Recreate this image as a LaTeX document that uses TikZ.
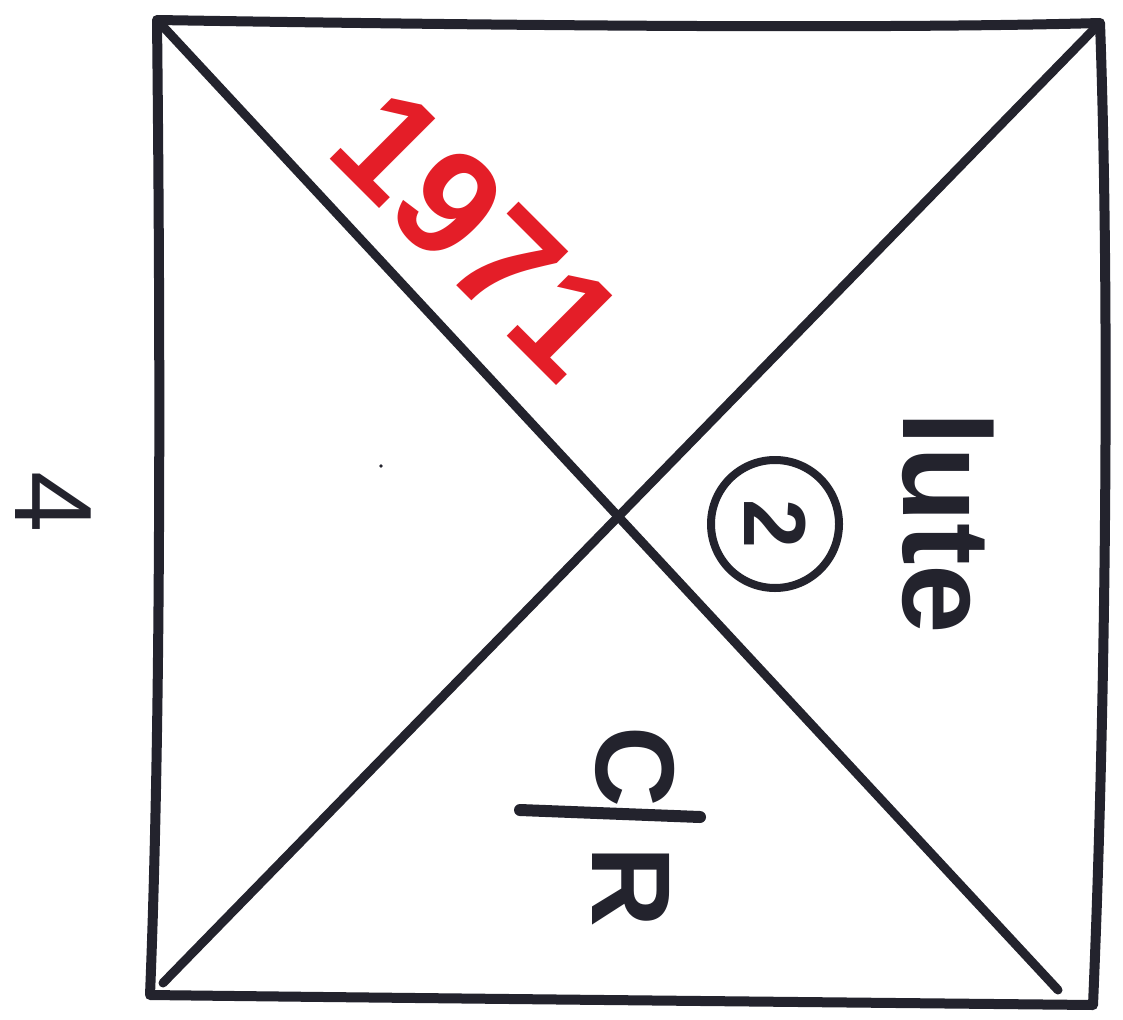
\documentclass[tikz,border=0pt]{standalone}
\usepackage{fontspec}
\setmainfont{Liberation Sans}
\begin{document}
\definecolor{ink}{RGB}{35,35,45}
\definecolor{brush}{RGB}{228,30,40}
\begin{tikzpicture}[x=1pt,y=-1pt,
  edge/.style={draw=ink,line width=10pt,line cap=round,line join=round},
  inktext/.style={text=ink,inner sep=0pt,rotate=-90},
  redtext/.style={text=brush,inner sep=0pt,rotate=-45}]
\useasboundingbox[fill=white] (0,0) rectangle (1123,1019);
% corners of the square
\coordinate (tl) at (157,20);
\coordinate (tr) at (1100,23);
\coordinate (br) at (1093,1005);
\coordinate (bl) at (150,995);
\coordinate (dgA) at (1058,990);
\coordinate (dgB) at (163,983);
% square
\draw[edge] (tl) .. controls (400,24) and (850,30) .. (tr)
  .. controls (1110,300) and (1106,700) .. (br)
  .. controls (800,1002) and (400,998) .. (bl)
  .. controls (162,700) and (160,300) .. cycle;
% diagonals
\draw[edge,line width=9pt] (tl) -- (dgA);
\draw[edge,line width=9pt] (dgB) -- (tr);
% texts
\node[inktext,text height=80pt,text depth=0pt,font=\fontsize{110}{110}\selectfont] (four) at (56,502) {4};
\node[redtext,text height=107pt,text depth=0pt,font=\fontsize{150}{150}\selectfont\bfseries] (year) at (479,233) {1971};
\node[inktext,anchor=base,font=\fontsize{125}{125}\selectfont\bfseries] (word) at (903,523) {lute};
\node[inktext,draw=ink,line width=8pt,circle,minimum size=128pt,font=\fontsize{88}{88}\selectfont\bfseries] (two) at (775,524) {2};
\node[inktext,text height=82pt,text depth=0pt,font=\fontsize{112}{112}\selectfont\bfseries] (cee) at (637,767) {C};
\node[inktext,text height=82pt,text depth=0pt,font=\fontsize{112}{112}\selectfont\bfseries] (arr) at (633,887) {R};
\draw[edge,line width=12pt] (520,810) -- (700,817);
\fill[ink] (381,466) circle (1.8);
\end{tikzpicture}
\end{document}
